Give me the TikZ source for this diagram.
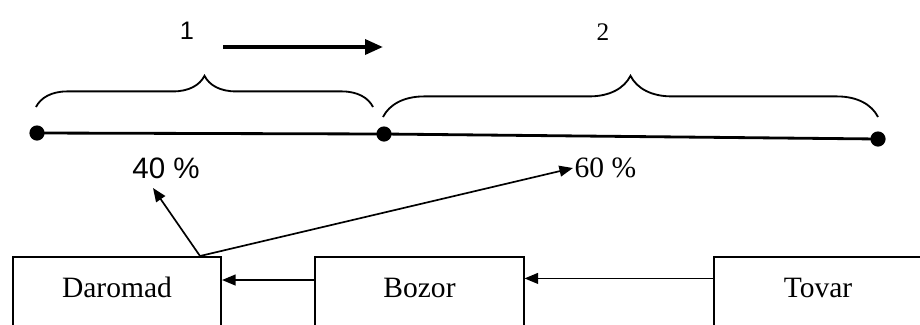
\documentclass[tikz,border=0pt]{standalone}
\usepackage{fontspec}
\setmainfont{Liberation Serif}
\newfontfamily\labelsans{Liberation Sans}
\usetikzlibrary{arrows.meta,decorations.pathreplacing}

\begin{document}
\begin{tikzpicture}[x=0.025cm, y=-0.025cm,
    block/.style={draw, line width=1.4pt, minimum width=5.2cm, inner sep=0pt,
      text height=1cm, text depth=1.4cm, anchor=base, font=\fontsize{21}{25}\selectfont},
    pct/.style={inner sep=1pt, font=\fontsize{21}{25}\selectfont},
    numlabel/.style={inner sep=0pt, font=\fontsize{18}{22}\selectfont},
    flow/.style={-{Triangle[length=0.34cm,width=0.27cm]}, line width=1.2pt},
    bigflow/.style={-{Triangle[length=0.45cm,width=0.37cm]}, line width=2.8pt},
    bracket/.style={decorate, line width=1.3pt}]
    
    % Frame
    \path[use as bounding box, clip] (0,0) rectangle (920,324);
    
    % Top - numbers and direction arrow
    \node[numlabel] (one) at (187,31) {\labelsans 1};
    \node[numlabel] (two) at (603,32) {2};
    \coordinate (dirA) at (223,47);
    \coordinate (dirB) at (383,47);
    \draw[bigflow] (dirA) -- (dirB);
    
    % Braces over the two parts
    \draw[bracket, decoration={brace, amplitude=0.78cm}] (36,107) -- (373,107);
    \draw[bracket, decoration={brace, amplitude=1.03cm}] (383,117) -- (878,117);
    
    % Line with three points
    \coordinate (p1) at (37,133);
    \coordinate (p2) at (384,134);
    \coordinate (p3) at (878,139);
    \draw[line width=2pt] (p1) -- (p2) -- (p3);
    \foreach \p in {p1,p2,p3}
      \fill (\p) circle (0.19cm);
    
    % Shares
    \node[pct] (pct40) at (166,168) {\labelsans 40 \%};
    \node[pct, anchor=west] (pct60) at (573,168) {60 \%};
    
    % Blocks
    \node[block] (daromad) at (117,297) {Daromad};
    \node[block] (bozor) at (419.5,297) {Bozor};
    \node[block] (tovar) at (818,297) {Tovar};
    
    % Connectors
    \draw[flow] ([yshift=-0.56cm]tovar.north west) -- ([yshift=-0.56cm]bozor.north east);
    \draw[flow] ([yshift=-0.6cm]bozor.north west) -- ([yshift=-0.6cm]daromad.north east);
    \coordinate (split) at ([xshift=-0.55cm]daromad.north east);
    \coordinate (tip40) at (153,188);
    \draw[flow] (split) -- (tip40);
    \draw[flow] (split) -- (pct60.west);
    
  \end{tikzpicture}
\end{document}
